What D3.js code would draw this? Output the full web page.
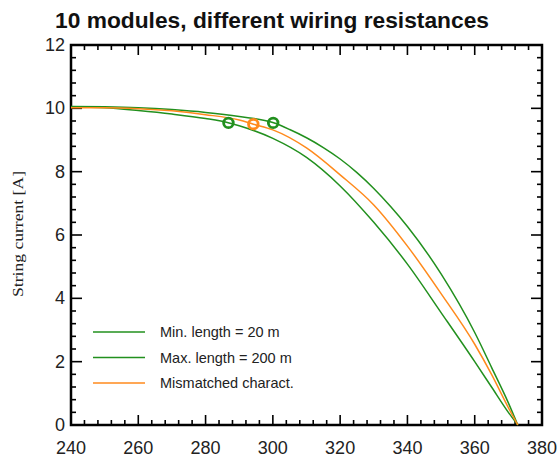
<!DOCTYPE html>
<html><head><meta charset="utf-8">
<script src="https://cdn.jsdelivr.net/npm/d3@7"></script>
<style>body{margin:0;background:#fff}svg{display:block}</style>
</head><body>
<script>
const title = "10 modules, different wiring resistances";
const yLabel = "String current [A]";
const xTicks = [240,260,280,300,320,340,360,380];
const yTicks = [0,2,4,6,8,10,12];
const seriesNames = ["Min. length = 20 m","Max. length = 200 m","Mismatched charact."];
const seriesColors = ["#22901e","#22901e","#ff8a1c"];
const minV = [240,250,260,270,280,290,300,305,310,315,320,325,330,335,340,350,360,365,370,372.8];
const minI = [10.06,10.05,10.02,9.96,9.87,9.74,9.55,9.33,9.07,8.76,8.40,7.97,7.47,6.90,6.27,4.77,2.92,1.82,0.70,0];
const maxV = [240,250,260,270,280,287,290,300,310,320,330,340,350,360,365,370,372.8];
const maxI = [10.05,10.02,9.93,9.82,9.68,9.54,9.45,9.05,8.45,7.55,6.40,5.08,3.55,2.00,1.20,0.40,0];
const misV = [240,250,260,270,280,290,294.2,300,310,320,330,340,350,360,365,370,372.8];
const misI = [10.02,10.02,9.99,9.92,9.80,9.63,9.50,9.32,8.75,7.90,6.95,5.65,4.15,2.55,1.60,0.55,0];
const mppV = [300.1,286.8,294.2];
const mppI = [9.54,9.54,9.50];

const W=557,H=459, m={l:71,r:15,t:45,b:34};
const svg=d3.select("body").append("svg").attr("width",W).attr("height",H);
const x=d3.scaleLinear().domain([240,380]).range([m.l,W-m.r]);
const y=d3.scaleLinear().domain([0,12]).range([H-m.b,m.t]);
const font="Arial, 'Liberation Sans', sans-serif";

svg.append("text").attr("x",55).attr("y",28).attr("font-family",font).attr("font-weight","bold")
  .attr("font-size",21.5).attr("textLength",434).attr("lengthAdjust","spacingAndGlyphs").attr("fill","#111").text(title);

const minorX=d3.range(240,380.1,4), minorY=d3.range(0,12.01,0.4);
const isMajX=v=>Math.abs(v/20-Math.round(v/20))<1e-6, isMajY=v=>Math.abs(v/2-Math.round(v/2))<1e-6;
const tk=svg.append("g").attr("stroke","#000").attr("stroke-width",1.6);
minorX.forEach(v=>{const L=isMajX(v)?10:5;
  tk.append("line").attr("x1",x(v)).attr("x2",x(v)).attr("y1",y(0)).attr("y2",y(0)-L);
  tk.append("line").attr("x1",x(v)).attr("x2",x(v)).attr("y1",y(12)).attr("y2",y(12)+L);});
minorY.forEach(v=>{const L=isMajY(v)?11:5;
  tk.append("line").attr("y1",y(v)).attr("y2",y(v)).attr("x1",x(240)).attr("x2",x(240)+L);
  tk.append("line").attr("y1",y(v)).attr("y2",y(v)).attr("x1",x(380)).attr("x2",x(380)-L);});

svg.append("rect").attr("x",x(240)).attr("y",y(12)).attr("width",x(380)-x(240)).attr("height",y(0)-y(12))
  .attr("fill","none").attr("stroke","#000").attr("stroke-width",2.5);

svg.append("g").selectAll("text").data(xTicks).join("text").attr("x",d=>x(d)).attr("y",H-5)
  .attr("text-anchor","middle").attr("font-family",font).attr("font-size",18).attr("fill","#222").text(d=>d);
svg.append("g").selectAll("text").data(yTicks).join("text").attr("x",x(240)-6).attr("y",d=>y(d)+6)
  .attr("text-anchor","end").attr("font-family",font).attr("font-size",18).attr("fill","#222").text(d=>d);

svg.append("text").attr("transform","translate(23,234) rotate(-90)").attr("text-anchor","middle")
  .attr("font-family","'Liberation Serif','Times New Roman',serif").attr("font-size",15)
  .attr("textLength",126).attr("lengthAdjust","spacingAndGlyphs").attr("fill","#222").text(yLabel);

const line=d3.line().x(d=>x(d[0])).y(d=>y(d[1])).curve(d3.curveMonotoneX);
const series=[d3.zip(minV,minI),d3.zip(maxV,maxI),d3.zip(misV,misI)];
const plot=svg.append("g");
series.forEach((s,i)=>plot.append("path").datum(s).attr("d",line)
  .attr("fill","none").attr("stroke",seriesColors[i]).attr("stroke-width",1.5));
mppV.forEach((v,i)=>plot.append("circle").attr("cx",x(v)).attr("cy",y(mppI[i])).attr("r",4.8)
  .attr("fill","none").attr("stroke",seriesColors[i]).attr("stroke-width",2.8));

const lg=svg.append("g");
seriesNames.forEach((n,i)=>{const yy=332+i*25.5;
  lg.append("line").attr("x1",93).attr("x2",145).attr("y1",yy).attr("y2",yy).attr("stroke",seriesColors[i]).attr("stroke-width",1.5);
  lg.append("text").attr("x",160).attr("y",yy+5).attr("font-family",font).attr("font-size",14.5).attr("fill","#222").text(n);});
</script>
</body></html>
